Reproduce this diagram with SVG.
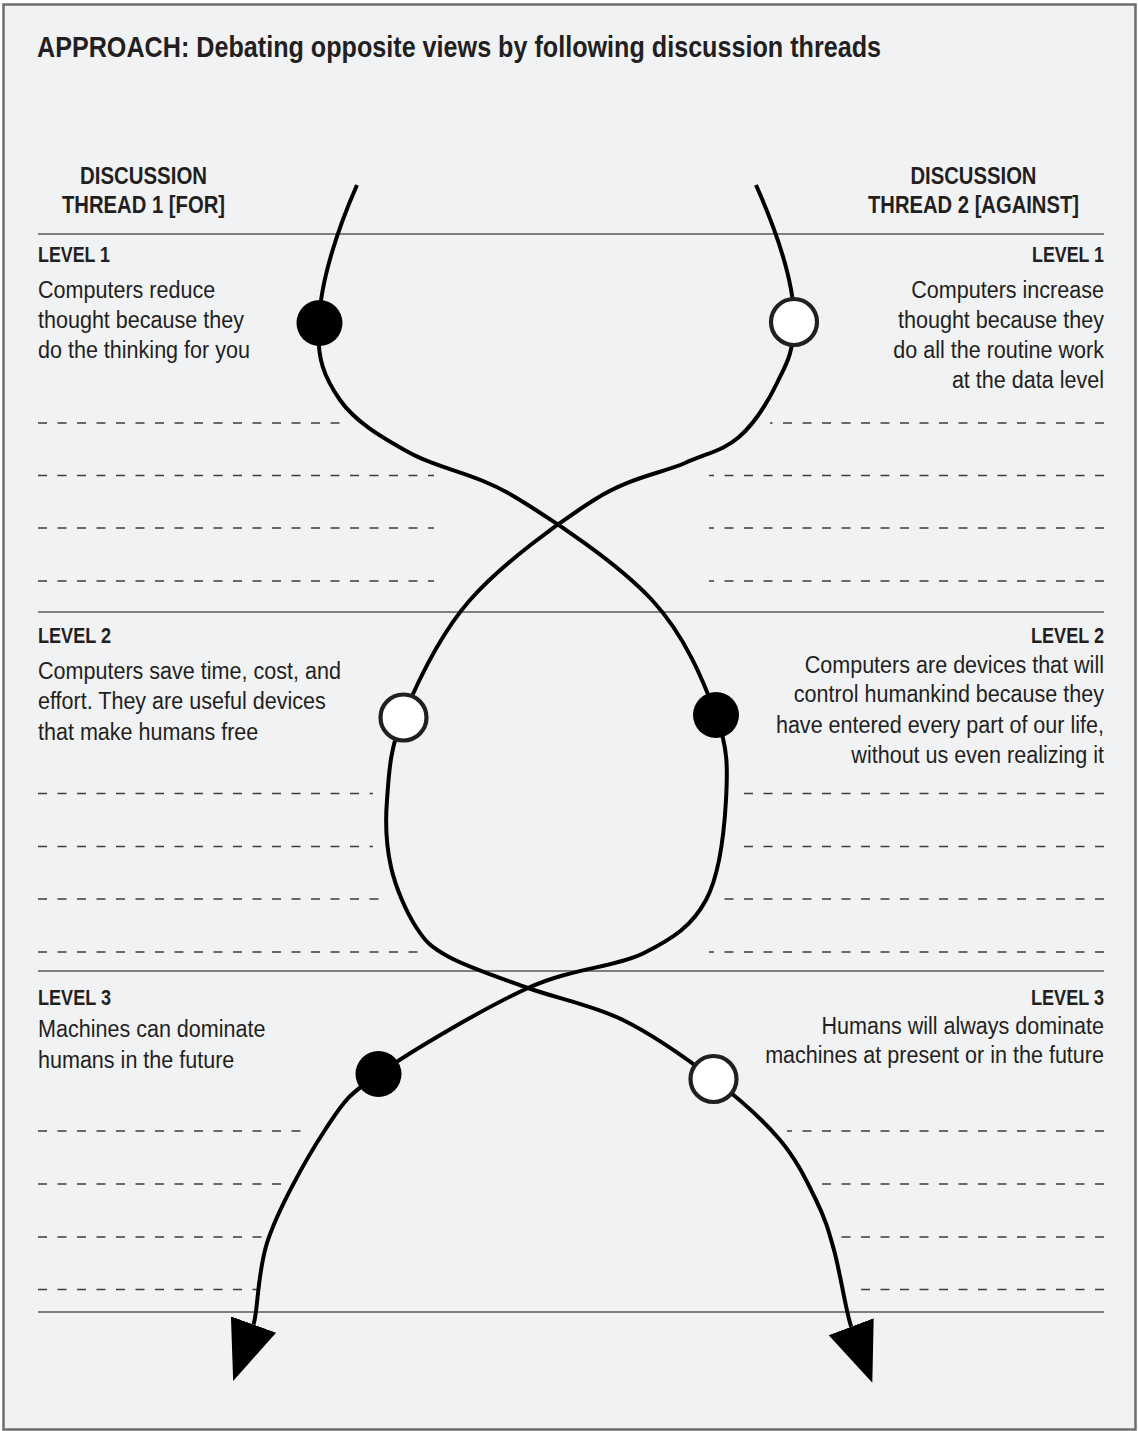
<svg xmlns="http://www.w3.org/2000/svg" width="1138" height="1431" viewBox="0 0 1138 1431">
<defs>
<style>
.bold{font-family:"Liberation Sans",Arial,sans-serif;font-weight:bold;fill:#231f20}
.body{font-family:"Liberation Sans",Arial,sans-serif;font-size:24px;fill:#231f20}
.title{font-size:30px}
.hdr{font-size:23.5px;text-anchor:middle}
.lvl{font-size:22px}
.r{text-anchor:end}
.rule{stroke:#5a5a5a;stroke-width:1.5}
.dash{stroke:#3d3d3d;stroke-width:1.6;stroke-dasharray:9 10.5}
.thread{fill:none;stroke:#000;stroke-width:4}
.dotB{fill:#000}
.dotW{fill:#fff;stroke:#231f20;stroke-width:4.2}
</style>
<marker id="arrow" markerUnits="userSpaceOnUse" markerWidth="64" markerHeight="52" refX="0" refY="26" viewBox="0 0 64 52" orient="auto"><path d="M0,2 L60,26 L0,50 Z" fill="#000"/></marker>
</defs>
<rect x="3.5" y="4.5" width="1132" height="1425" fill="#f1f2f4" stroke="#6d6d6d" stroke-width="2.5"/>
<g id="title"><text class="bold title" x="37" y="57" textLength="844" lengthAdjust="spacingAndGlyphs">APPROACH: Debating opposite views by following discussion threads</text></g>
<g id="header-for"><text class="bold hdr" x="143.5" y="184" textLength="127" lengthAdjust="spacingAndGlyphs">DISCUSSION</text><text class="bold hdr" x="143.5" y="213" textLength="163" lengthAdjust="spacingAndGlyphs">THREAD 1 [FOR]</text></g>
<g id="header-against"><text class="bold hdr" x="973.5" y="184" textLength="126" lengthAdjust="spacingAndGlyphs">DISCUSSION</text><text class="bold hdr" x="973.5" y="213" textLength="211" lengthAdjust="spacingAndGlyphs">THREAD 2 [AGAINST]</text></g>
<g id="rules">
<line class="rule" x1="38" y1="234" x2="1104" y2="234"/>
<line class="rule" x1="38" y1="612" x2="1104" y2="612"/>
<line class="rule" x1="38" y1="971" x2="1104" y2="971"/>
<line class="rule" x1="38" y1="1312" x2="1104" y2="1312"/>
</g>
<g id="dashes">
<line class="dash" x1="38" y1="423" x2="348" y2="423"/>
<line class="dash" x1="38" y1="475.5" x2="434" y2="475.5"/>
<line class="dash" x1="38" y1="528" x2="434" y2="528"/>
<line class="dash" x1="38" y1="581" x2="434" y2="581"/>
<line class="dash" x1="1104" y1="423" x2="770" y2="423"/>
<line class="dash" x1="1104" y1="475.5" x2="709" y2="475.5"/>
<line class="dash" x1="1104" y1="528" x2="709" y2="528"/>
<line class="dash" x1="1104" y1="581" x2="709" y2="581"/>
<line class="dash" x1="38" y1="793.5" x2="373" y2="793.5"/>
<line class="dash" x1="38" y1="846.5" x2="373" y2="846.5"/>
<line class="dash" x1="38" y1="899" x2="382" y2="899"/>
<line class="dash" x1="38" y1="952" x2="418" y2="952"/>
<line class="dash" x1="1104" y1="793.5" x2="742" y2="793.5"/>
<line class="dash" x1="1104" y1="846.5" x2="738" y2="846.5"/>
<line class="dash" x1="1104" y1="899" x2="723" y2="899"/>
<line class="dash" x1="1104" y1="952" x2="709" y2="952"/>
<line class="dash" x1="38" y1="1131" x2="309" y2="1131"/>
<line class="dash" x1="38" y1="1184" x2="288" y2="1184"/>
<line class="dash" x1="38" y1="1237" x2="268" y2="1237"/>
<line class="dash" x1="38" y1="1289.5" x2="257" y2="1289.5"/>
<line class="dash" x1="1104" y1="1131" x2="787" y2="1131"/>
<line class="dash" x1="1104" y1="1184" x2="817" y2="1184"/>
<line class="dash" x1="1104" y1="1237" x2="832" y2="1237"/>
<line class="dash" x1="1104" y1="1289.5" x2="854" y2="1289.5"/>
</g>
<g id="level1-for"><text class="bold lvl" x="38" y="262" textLength="72" lengthAdjust="spacingAndGlyphs">LEVEL 1</text>
<g transform="scale(0.898,1)">
<text class="body" x="42.3" y="298">Computers reduce</text>
<text class="body" x="42.3" y="328">thought because they</text>
<text class="body" x="42.3" y="358">do the thinking for you</text></g></g>
<g id="level1-against"><text class="bold lvl r" x="1104" y="262" textLength="72" lengthAdjust="spacingAndGlyphs">LEVEL 1</text>
<g transform="scale(0.898,1)">
<text class="body r" x="1229.4" y="298">Computers increase</text>
<text class="body r" x="1229.4" y="328">thought because they</text>
<text class="body r" x="1229.4" y="358">do all the routine work</text>
<text class="body r" x="1229.4" y="388">at the data level</text></g></g>
<g id="level2-for"><text class="bold lvl" x="38" y="643" textLength="73" lengthAdjust="spacingAndGlyphs">LEVEL 2</text>
<g transform="scale(0.898,1)">
<text class="body" x="42.3" y="679">Computers save time, cost, and</text>
<text class="body" x="42.3" y="709.5">effort. They are useful devices</text>
<text class="body" x="42.3" y="740">that make humans free</text></g></g>
<g id="level2-against"><text class="bold lvl r" x="1104" y="643" textLength="73" lengthAdjust="spacingAndGlyphs">LEVEL 2</text>
<g transform="scale(0.898,1)">
<text class="body r" x="1229.4" y="673">Computers are devices that will</text>
<text class="body r" x="1229.4" y="702.5">control humankind because they</text>
<text class="body r" x="1229.4" y="733">have entered every part of our life,</text>
<text class="body r" x="1229.4" y="763">without us even realizing it</text></g></g>
<g id="level3-for"><text class="bold lvl" x="38" y="1005" textLength="73" lengthAdjust="spacingAndGlyphs">LEVEL 3</text>
<g transform="scale(0.898,1)">
<text class="body" x="42.3" y="1037">Machines can dominate</text>
<text class="body" x="42.3" y="1068">humans in the future</text></g></g>
<g id="level3-against"><text class="bold lvl r" x="1104" y="1005" textLength="73" lengthAdjust="spacingAndGlyphs">LEVEL 3</text>
<g transform="scale(0.898,1)">
<text class="body r" x="1229.4" y="1034">Humans will always dominate</text>
<text class="body r" x="1229.4" y="1063">machines at present or in the future</text></g></g>
<g id="connectors">
<path id="thread-for" class="thread" marker-end="url(#arrow)" d="M357,185 C338,228 320,282 319,323 C316.2,358.8 324.8,378.3 340,400 C355.2,421.7 380.8,436.8 410,453 C439.2,469.2 474.7,472.5 515,497 C555.3,521.5 618.5,563.7 652,600 C685.5,636.3 703.7,681.7 716,715 C728.3,748.3 727.7,769.2 726,800 C724.3,830.8 719.7,874.5 706,900 C692.3,925.5 673.7,938.3 644,953 C614.3,967.7 572.25,967.8 528,988 C483.75,1008.2 412.3,1050.3 378.5,1074 C344.7,1097.7 343.6,1101.8 325,1130 C306.4,1158.2 277,1211 267,1243 C257,1275 258,1312 253.5,1324.5"/>
<path id="thread-against" class="thread" marker-end="url(#arrow)" d="M756,185 C775,228 795,282 794,323 C793,355 786.2,364 777,383 C767.8,402 754.3,423.7 739,437 C723.7,450.3 709.2,452.5 685,463 C660.8,473.5 629.8,477.2 594,500 C558.2,522.8 501.8,563.8 470,600 C438.2,636.2 416.8,683.7 403,717 C389.2,750.3 389,775 387,800 C385,825 386.2,845.8 391,867 C395.8,888.2 406.3,912 416,927 C425.7,942 430.3,946.8 449,957 C467.7,967.2 499,977.5 528,988 C557,998.5 592.1,1004.8 623,1020 C653.9,1035.2 687.3,1059 713.5,1079 C739.7,1099 762.9,1119.8 780,1140 C797.1,1160.2 807,1181.7 816,1200 C825,1218.3 828.1,1228.9 834,1250 C839.9,1271.1 846.5,1314.2 851.2,1326.7"/>
</g>
<g id="node-l1-for"><circle class="dotB" cx="319.5" cy="323" r="23"/></g>
<g id="node-l1-against"><circle class="dotW" cx="794" cy="322" r="23"/></g>
<g id="node-l2-against"><circle class="dotW" cx="403.5" cy="717.5" r="23"/></g>
<g id="node-l2-for"><circle class="dotB" cx="716" cy="715" r="23"/></g>
<g id="node-l3-for"><circle class="dotB" cx="378.5" cy="1074" r="23"/></g>
<g id="node-l3-against"><circle class="dotW" cx="713.5" cy="1079" r="23"/></g>
</svg>
